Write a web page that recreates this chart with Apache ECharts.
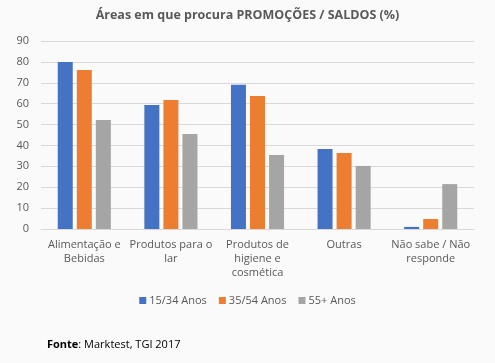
<!DOCTYPE html>
<html>
<head>
<meta charset="utf-8">
<script src="https://cdn.jsdelivr.net/npm/echarts@6/dist/echarts.min.js"></script>
<style>html,body{margin:0;padding:0;background:#fafafa;}#c{width:495px;height:363px;}</style>
</head>
<body>
<div id="c"></div>
<script>
var categories = ['Alimentação e\nBebidas', 'Produtos para o\nlar', 'Produtos de\nhigiene e\ncosmética', 'Outras', 'Não sabe / Não\nresponde'];
var seriesNames = ['15/34 Anos', '35/54 Anos', '55+ Anos'];
var s1534 = [80, 59.4, 69, 38.3, 1];
var s3554 = [76.1, 61.8, 63.7, 36.4, 4.8];
var s55 = [52.2, 45.5, 35.4, 30.2, 21.5];
var yTicks = [0, 10, 20, 30, 40, 50, 60, 70, 80, 90];
var colors = ['#4472c4', '#ed7d31', '#a5a5a5'];
var font = 'Open Sans';
var chart = echarts.init(document.getElementById('c'));
var data = [s1534, s3554, s55];
chart.setOption({
  backgroundColor: '#fafafa',
  animation: false,
  title: [{
    text: 'Áreas em que procura PROMOÇÕES / SALDOS (%)',
    left: 'center', top: 4,
    textStyle: {fontFamily: font, fontSize: 12.5, fontWeight: 'bold', color: '#595959'}
  }, {
    text: '{b|Fonte}: Marktest, TGI 2017',
    left: 42, top: 334,
    textStyle: {fontFamily: font, fontSize: 11, fontWeight: 'normal', color: '#000',
      rich: {b: {fontFamily: font, fontSize: 11, fontWeight: 'bold', color: '#000'}}}
  }],
  legend: {
    data: seriesNames, bottom: 52, left: 'center', itemWidth: 7, itemHeight: 7, itemGap: 12,
    icon: 'rect',
    textStyle: {fontFamily: font, fontSize: 11, color: '#595959', padding: [0,0,0,-2]}
  },
  grid: {left: 41, right: 21, top: 41, bottom: 134},
  xAxis: {
    type: 'category', data: categories,
    axisLine: {lineStyle: {color: '#d9d9d9'}},
    axisTick: {show: false},
    axisLabel: {fontFamily: font, fontSize: 11, color: '#595959', interval: 0, lineHeight: 14, margin: 9}
  },
  yAxis: {
    type: 'value', min: yTicks[0], max: yTicks[yTicks.length - 1], interval: 10,
    axisLine: {show: false}, axisTick: {show: false},
    splitLine: {lineStyle: {color: '#d9d9d9'}},
    axisLabel: {fontFamily: font, fontSize: 11, color: '#595959', margin: 12}
  },
  series: seriesNames.map(function (n, i) {
    return {name: n, type: 'bar', data: data[i], barWidth: 15, barGap: '27%',
      itemStyle: {color: colors[i]}};
  })
});
</script>
</body>
</html>
